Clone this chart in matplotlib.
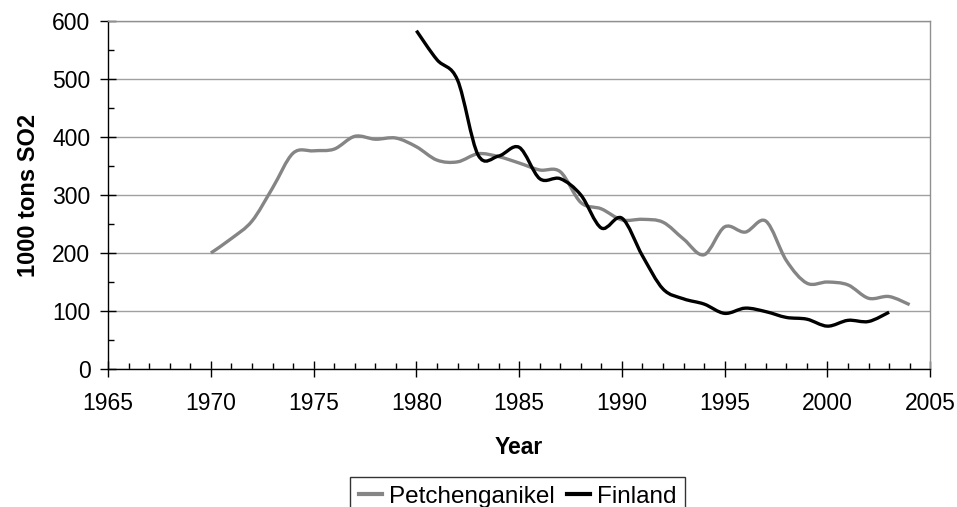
import matplotlib
matplotlib.use('Agg')
import matplotlib.pyplot as plt
import numpy as np
from matplotlib.path import Path
from matplotlib.patches import PathPatch
from matplotlib.lines import Line2D
from matplotlib.ticker import MultipleLocator

plt.rcParams['font.family'] = ['Liberation Sans', 'DejaVu Sans']

# SO2 emissions, 1000 tons
petch_years = list(range(1970, 2005))
petch_vals = [200, 225, 255, 312, 372, 376, 379, 401, 396, 398,
              383, 360, 357, 371, 366, 355, 343, 340, 287, 276,
              257, 258, 253, 224, 197, 245, 236, 255, 187, 148,
              150, 145, 122, 125, 111]
fin_years = list(range(1980, 2004))
fin_vals = [583, 533, 498, 369, 367, 382, 328, 328, 300, 243,
            260, 195, 138, 121, 112, 96, 105, 99, 89, 86,
            74, 84, 82, 98]


def smooth_path(xs, ys):
    # Excel-style smoothed line: cubic Bezier segments through every point
    p = np.column_stack([xs, ys]).astype(float)
    n = len(p)
    verts = [p[0]]
    codes = [Path.MOVETO]
    for i in range(n - 1):
        p0 = p[i - 1] if i > 0 else p[i]
        p3 = p[i + 2] if i + 2 < n else p[i + 1]
        c1 = p[i] + (p[i + 1] - p0) / 6.0
        c2 = p[i + 1] - (p3 - p[i]) / 6.0
        verts += [c1, c2, p[i + 1]]
        codes += [Path.CURVE4] * 3
    return Path(verts, codes)


fig = plt.figure(figsize=(9.57, 5.07), dpi=100)
ax = fig.add_axes([0.113, 0.272, 0.859, 0.687])

gray = '#858585'
ax.add_patch(PathPatch(smooth_path(petch_years, petch_vals), fill=False,
                       edgecolor=gray, lw=2.4, capstyle='butt', zorder=3))
ax.add_patch(PathPatch(smooth_path(fin_years, fin_vals), fill=False,
                       edgecolor='black', lw=2.4, capstyle='butt', zorder=4))

ax.set_xlim(1965, 2005)
ax.set_ylim(0, 600)
ax.xaxis.set_major_locator(MultipleLocator(5))
ax.xaxis.set_minor_locator(MultipleLocator(1))
ax.yaxis.set_major_locator(MultipleLocator(100))
ax.yaxis.set_minor_locator(MultipleLocator(50))

ax.grid(axis='y', which='major', color='#a0a0a0', lw=1)
ax.set_axisbelow(True)
ax.tick_params(which='major', direction='inout', length=11.5, width=1,
               labelsize=16.5)
ax.tick_params(axis='x', which='major', pad=11)
ax.tick_params(axis='y', which='major', pad=7)
ax.tick_params(which='minor', direction='in', length=4.5, width=1)

for s in ['left', 'bottom']:
    ax.spines[s].set_color('black')
    ax.spines[s].set_linewidth(1)
for s in ['right', 'top']:
    ax.spines[s].set_color('#909090')
    ax.spines[s].set_linewidth(1)

ax.set_xlabel('Year', fontsize=16.5, fontweight='bold', labelpad=15)
ax.set_ylabel('1000 tons SO2', fontsize=17, fontweight='bold', labelpad=9)

handles = [Line2D([], [], color=gray, lw=3),
           Line2D([], [], color='black', lw=3)]
leg = fig.legend(handles, ['Petchenganikel', 'Finland'], ncol=2,
                 loc='lower center', bbox_to_anchor=(0.541, -0.018),
                 fontsize=17.5, frameon=True, fancybox=False,
                 handlelength=0.95, handletextpad=0.3, columnspacing=0.5,
                 borderpad=0.35, borderaxespad=0.0)
leg.get_frame().set_edgecolor('black')
leg.get_frame().set_linewidth(1)

fig.savefig('out.png', dpi=100)
